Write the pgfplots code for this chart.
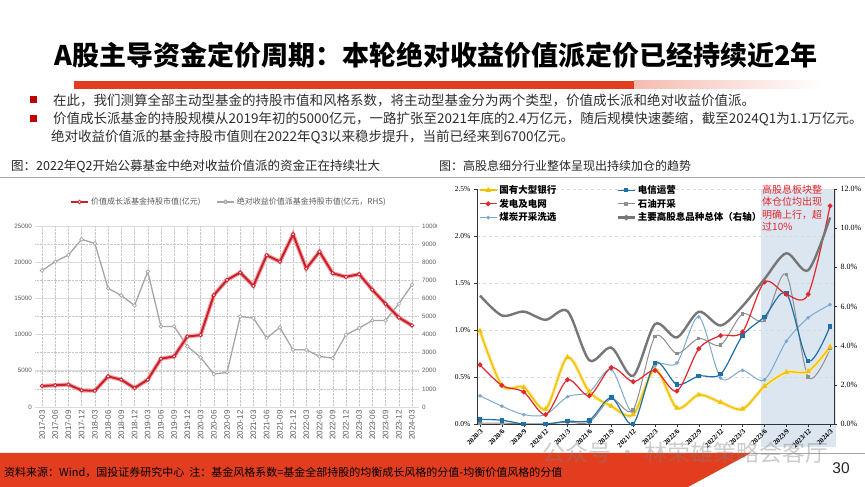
\documentclass[border=0pt]{standalone}
\usepackage{pgfplots}
\pgfplotsset{compat=1.18}
\usepackage{pgfplotstable}
\usepackage{fontspec}
\setmainfont{Liberation Sans}
\newfontfamily\cjk{Noto Sans CJK SC}
\newfontfamily\tnr{Liberation Serif}

\definecolor{slidered}{HTML}{E23D1E}
\definecolor{bulletred}{HTML}{C00000}
\definecolor{growred}{HTML}{C8202E}
\definecolor{growhalo}{HTML}{F4A6A6}
\definecolor{absgray}{HTML}{A6A6A6}
\definecolor{labgray}{HTML}{595959}
\definecolor{bankyel}{HTML}{F2C200}
\definecolor{bankhalo}{HTML}{FBE9A0}
\definecolor{telblue}{HTML}{1F6FA8}
\definecolor{powred}{HTML}{E3262C}
\definecolor{oilgray}{HTML}{8F8F8F}
\definecolor{coalblue}{HTML}{7EA9CF}
\definecolor{totgray}{HTML}{767676}
\definecolor{shadeblue}{HTML}{DCE6F1}

% left chart: holdings, 100 million yuan
\pgfplotstableread{
i grow abs
0 2900 7540
1 3000 8030
2 3100 8400
3 2300 9260
4 2250 9040
5 4230 6560
6 3770 6160
7 2620 5610
8 3770 7480
9 6660 4450
10 6990 4450
11 9740 3350
12 9930 2740
13 15440 1820
14 17550 1910
15 18570 5000
16 16730 4910
17 20960 3810
18 20080 4390
19 23850 3160
20 19120 3160
21 21460 2790
22 18470 2700
23 17970 3990
24 18340 4360
25 16180 4780
26 14250 4780
27 12360 5700
28 11260 6750
}\fundtab

% right chart: position weights, %
\pgfplotstableread{
i bank tel power oil coal total
0 0.99 0.05 0.63 0.01 0.30 6.56
1 0.41 0.04 0.41 0.01 0.19 5.54
2 0.39 0.00 0.34 0.00 0.10 5.74
3 0.16 0.00 0.10 0.00 0.10 5.32
4 0.71 0.03 0.47 0.02 0.29 5.76
5 0.34 0.04 0.30 0.02 0.34 3.25
6 0.19 0.28 0.60 0.27 0.58 3.90
7 0.10 0.00 0.45 0.15 0.12 2.46
8 0.58 0.65 0.57 0.93 0.62 5.10
9 0.17 0.42 0.35 0.75 0.65 4.42
10 0.31 0.51 0.80 0.91 1.14 5.73
11 0.23 0.53 0.94 0.84 0.49 5.03
12 0.16 0.94 0.98 1.17 0.57 6.02
13 0.40 1.14 1.51 1.10 0.47 7.40
14 0.55 1.39 1.38 1.59 0.88 8.72
15 0.56 0.67 1.38 0.50 1.13 7.85
16 0.82 1.04 2.32 0.80 1.27 10.55
}\divtab

\pgfplotsset{
  leftbox/.style={at={(35.4pt,80pt)}, anchor=south west, scale only axis,
    width=383.2pt, height=181pt, xmin=-0.5, xmax=28.5,
    axis line style={draw=none}, major tick length=0pt,
    scaled y ticks=false,
    yticklabel style={font=\fontsize{6.3}{7}\selectfont, text=labgray},
    /pgf/number format/1000 sep={},
    /pgf/number format/assume math mode=true},
  rightbox/.style={at={(477pt,63pt)}, anchor=south west, scale only axis,
    width=357pt, height=235pt, xmin=-0.137, xmax=16.18,
    axis line style={black!80, line width=0.6pt},
    tick align=outside, major tick length=3pt, tick style={black!80},
    scaled y ticks=false,
    yticklabel={\pgfmathprintnumber[fixed,fixed zerofill,precision=1,assume math mode=true]{\tick}\%}},
}

\begin{document}
\begin{tikzpicture}[x=1pt,y=1pt]
\useasboundingbox (0,0) rectangle (865,487);

% ---- header ----
\node[font=\cjk\bfseries\fontsize{27}{30}\selectfont] at (436,432)
  {A股主导资金定价周期：本轮绝对收益价值派定价已经持续近2年};
\fill[slidered] (74,398) rectangle (634,406);
\shade[left color=slidered!35, right color=white] (634,398) rectangle (822,406);

\fill[bulletred] (29.5,383.5) rectangle (36.5,390.5);
\fill[bulletred] (29.5,364.5) rectangle (36.5,371.5);
\begin{scope}[every node/.style={anchor=west, inner sep=0pt,
    font=\cjk\fontsize{13.5}{16}\selectfont, text=black!82}]
\node at (53,387) {在此，我们测算全部主动型基金的持股市值和风格系数，将主动型基金分为两个类型，价值成长派和绝对收益价值派。};
\node at (53,368) {价值成长派基金的持股规模从2019年初的5000亿元，一路扩张至2021年底的2.4万亿元，随后规模快速萎缩，截至2024Q1为1.1万亿元。};
\node at (51,350) {绝对收益价值派的基金持股市值则在2022年Q3以来稳步提升，当前已经来到6700亿元。};
\end{scope}

\node[anchor=west, inner sep=0pt, font=\cjk\fontsize{12.5}{14}\selectfont, text=black!85]
  at (11,321) {图：2022年Q2开始公募基金中绝对收益价值派的资金正在持续壮大};
\node[anchor=west, inner sep=0pt, font=\cjk\fontsize{12}{14}\selectfont, text=black!85]
  at (439,321) {图：高股息细分行业整体呈现出持续加仓的趋势};
\draw[black!35, line width=0.8pt] (0,310) -- (865,310);

% ---- left chart: right scale (absolute return value) ----
\begin{axis}[leftbox,
  ymin=0, ymax=10000,
  axis y line*=right, axis x line*=bottom,
  xtick={0,...,28},
  xticklabels={2017-03,2017-06,2017-09,2017-12,2018-03,2018-06,2018-09,2018-12,2019-03,2019-06,2019-09,2019-12,2020-03,2020-06,2020-09,2020-12,2021-03,2021-06,2021-09,2021-12,2022-03,2022-06,2022-09,2022-12,2023-03,2023-06,2023-09,2023-12,2024-03},
  xticklabel style={rotate=90, anchor=east, font=\fontsize{8}{9}\selectfont, text=labgray},
  ytick={0,1000,...,10000},
  xmajorgrids, ymajorgrids,
  grid style={densely dotted, black!22},
  extra y ticks={0,2000,...,10000}, extra y tick labels={},
  extra y tick style={grid=major, major grid style={solid, black!14, line width=0.6pt}},
]
\addplot[absgray, line width=1.3pt, mark=*, mark size=1.8pt,
  mark options={fill=white, line width=0.7pt}] table[x=i, y=abs] {\fundtab};
\end{axis}

% ---- left chart: left scale (value growth) ----
\begin{axis}[leftbox,
  ymin=0, ymax=25000,
  axis x line=none, axis y line*=left,
  ytick={0,5000,...,25000},
  legend columns=2, legend cell align=left,
  legend style={at={(0.505,1.133)}, anchor=center, draw=none, fill=none,
    font=\cjk\fontsize{8}{9}\selectfont, text=labgray,
    /tikz/every even column/.append style={column sep=14pt}},
]
\addplot[growhalo, line width=4.2pt, forget plot] table[x=i, y=grow] {\fundtab};
\addplot[growred, line width=2pt, mark=*, mark size=1.8pt,
  mark options={fill=white, line width=0.8pt}] table[x=i, y=grow] {\fundtab};
\addlegendentry{价值成长派基金持股市值(亿元)}
\addlegendimage{absgray, line width=1.2pt, mark=*, mark size=1.8pt, mark options={fill=white}}
\addlegendentry{绝对收益价值派基金持股市值(亿元，RHS)}
\end{axis}

% ---- right chart ----
\fill[white] (437,35) rectangle (865,307);
\fill[shadeblue] (761,40) rectangle (836,298);

\begin{axis}[rightbox,
  ymin=0, ymax=2.5,
  axis x line*=bottom, axis y line*=left,
  xtick={0,...,16},
  xticklabels={2020/3,2020/6,2020/9,2020/12,2021/3,2021/6,2021/9,2021/12,2022/3,2022/6,2022/9,2022/12,2023/3,2023/6,2023/9,2023/12,2024/3},
  xticklabel style={rotate=45, anchor=north east, inner sep=1pt,
    font=\tnr\bfseries\fontsize{7}{8}\selectfont},
  ytick={0,0.5,...,2.5},
  yticklabel style={font=\tnr\fontsize{7.5}{8}\selectfont},
  ymajorgrids, grid style={dashed, black!15},
  legend columns=2, legend cell align=left,
  legend style={at={(0.005,1.025)}, anchor=north west, draw=none, fill=none,
    inner sep=0pt, font=\cjk\bfseries\fontsize{9.5}{11}\selectfont,
    /tikz/every even column/.append style={column sep=58pt}},
]
\addplot[coalblue, line width=1pt, smooth, mark=*, mark size=1.3pt, forget plot]
  table[x=i, y=coal] {\divtab};
\addplot[oilgray, line width=1pt, smooth, mark=square*, mark size=1.2pt, forget plot]
  table[x=i, y=oil] {\divtab};
\addplot[bankhalo, line width=3.6pt, smooth, forget plot] table[x=i, y=bank] {\divtab};
\addplot[bankyel, line width=1.4pt, smooth, mark=triangle*, mark size=1.8pt, forget plot]
  table[x=i, y=bank] {\divtab};
\addplot[telblue, line width=1.2pt, smooth, mark=square*, mark size=1.7pt, forget plot]
  table[x=i, y=tel] {\divtab};
\addplot[powred, line width=1.2pt, smooth, mark=*, mark size=1.8pt, forget plot]
  table[x=i, y=power] {\divtab};
\addlegendimage{bankyel, line width=1.4pt, mark=triangle*, mark size=1.8pt}
\addlegendentry{国有大型银行}
\addlegendimage{telblue, line width=1.2pt, mark=square*, mark size=1.7pt}
\addlegendentry{电信运营}
\addlegendimage{powred, line width=1.2pt, mark=*, mark size=1.8pt}
\addlegendentry{发电及电网}
\addlegendimage{oilgray, line width=1pt, mark=square*, mark size=1.2pt}
\addlegendentry{石油开采}
\addlegendimage{coalblue, line width=1pt, mark=*, mark size=1.3pt}
\addlegendentry{煤炭开采洗选}
\addlegendimage{totgray, line width=2.4pt, mark=*, mark size=1.3pt}
\addlegendentry{主要高股息品种总体（右轴）}
\end{axis}

\begin{axis}[rightbox,
  ymin=0, ymax=12,
  axis x line=none, axis y line*=right,
  ytick={0,2,...,12},
  yticklabel style={font=\tnr\fontsize{8}{9}\selectfont},
]
\addplot[totgray, line width=2.4pt, smooth] table[x=i, y=total] {\divtab};
\end{axis}

\node[anchor=north west, align=left, inner sep=0pt, text=powred,
  font=\cjk\fontsize{10}{12.2}\selectfont] at (762,302)
  {高股息板块整\\体仓位均出现\\明确上行，超\\过10\%};

% ---- footer ----
\fill[slidered] (0,0) -- (0,34) -- (751,34) -- (688,0) -- cycle;
\draw[black!35, line width=0.8pt] (751,33.6) -- (865,33.6);
\node[anchor=west, inner sep=0pt, font=\cjk\fontsize{11}{12}\selectfont, text=black]
  at (4,15) {资料来源：Wind，国投证券研究中心\ \ 注：基金风格系数=基金全部持股的均衡成长风格的分值-均衡价值风格的分值};
\node[font=\fontsize{15.5}{17}\selectfont, text=black!85] at (841,19) {30};
\node[anchor=west, inner sep=0pt, font=\cjk\fontsize{23}{25}\selectfont, text=gray, opacity=0.4]
  at (542,34) {公众号 · 林荣雄策略会客厅};
\end{tikzpicture}
\end{document}
